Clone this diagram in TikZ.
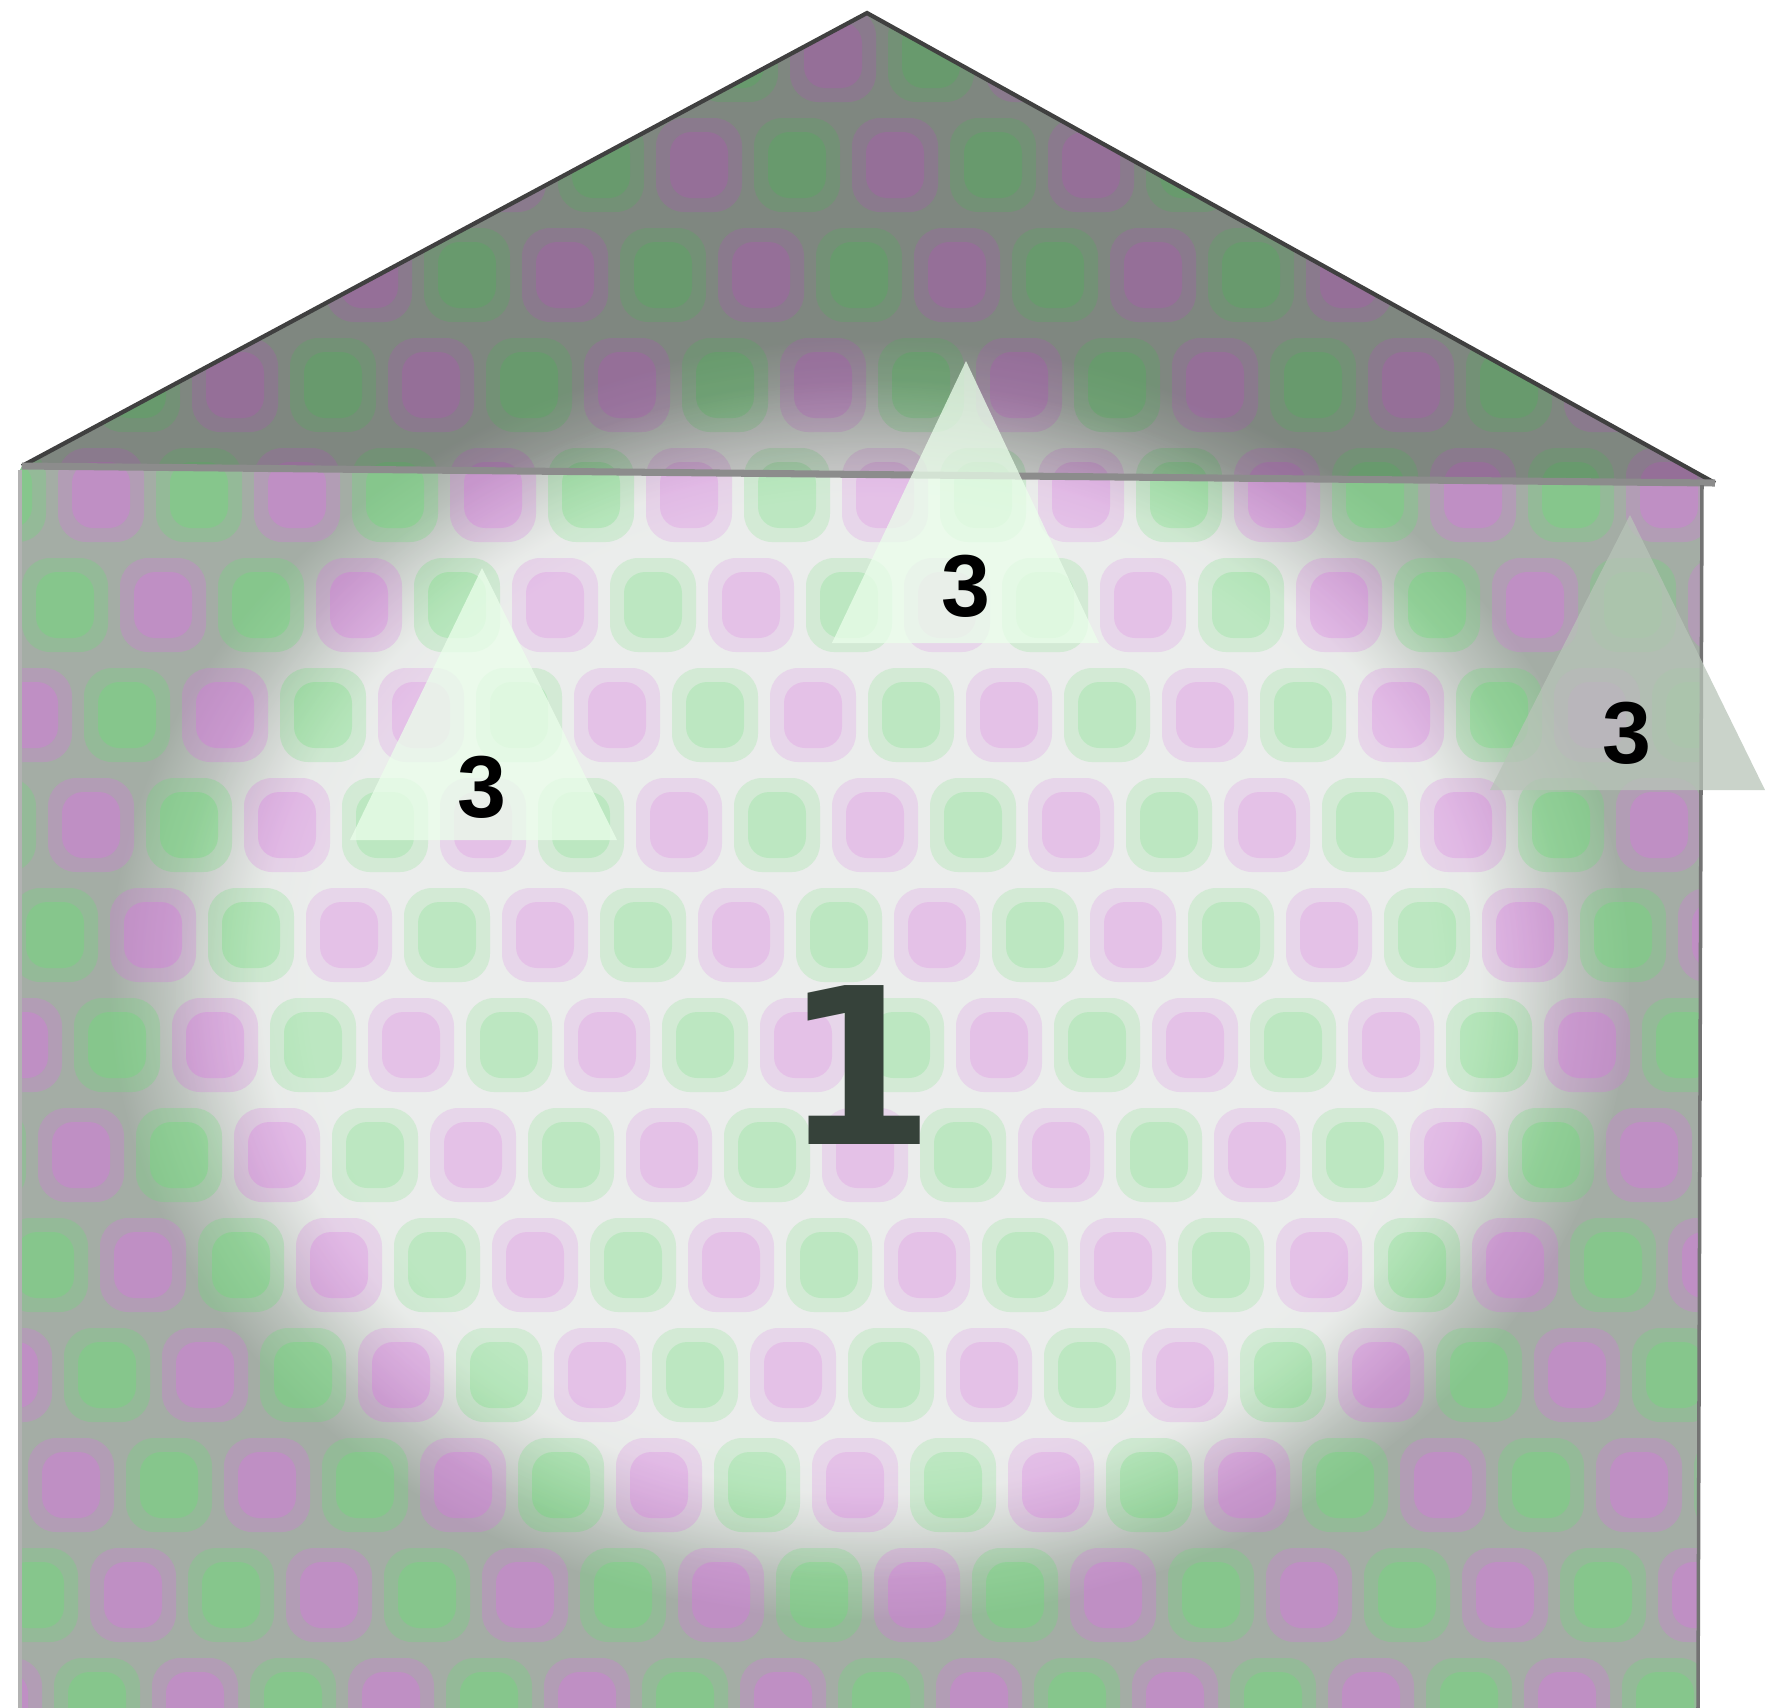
\documentclass[tikz,border=0pt]{standalone}
\usepackage{fontspec}
\setmainfont{Liberation Sans}
\newfontfamily\digitfont{DejaVu Sans}
\usetikzlibrary{fadings}
\definecolor{plum}{HTML}{D37ADB}
\definecolor{mint}{HTML}{72D97C}
\definecolor{wallgray}{HTML}{A4ADA5}
\definecolor{inkgray}{HTML}{36423A}
\definecolor{panegray}{HTML}{B8C4B8}

\begin{document}
\begin{tikzpicture}[x=0.01cm,y=-0.01cm,
  blob/.style={opacity=.3,rounded corners=8pt},
  core/.style={opacity=.4,rounded corners=6pt},
  glow/.style={fill=white,path fading=circle with fuzzy edge 20 percent},
  pane/.style={fill=white!92!green,fill opacity=.75},
  greypane/.style={fill=panegray,fill opacity=.75},
  small/.style={font=\bfseries\fontsize{25}{25}\selectfont,text=black},
  big/.style={font=\digitfont\bfseries\fontsize{62}{62}\selectfont,text=inkgray}]
  \useasboundingbox (0,0) rectangle (1768,1708);
  \coordinate (apex) at (867,13);
  \coordinate (rl) at (22,466);
  \coordinate (rr) at (1715,483);
  \coordinate (bl) at (20,470);
  \coordinate (br) at (1702,485);
  \coordinate (bbr) at (1698,1708);
  \coordinate (bbl) at (20,1708);
  % house with plaid
  \begin{scope}
    \clip (bbl) -- (bl) -- (rl) -- (apex) -- (rr) -- (br) -- (bbr) -- cycle;
    \fill[wallgray] (0,0) rectangle (1768,1708);
    \fill[glow,fill opacity=.7] (870,980) ellipse (760 and 640);
    \foreach \j in {0,...,15}{
      \pgfmathtruncatemacro\xo{mod(\j*62,196)-196}
      \foreach \i in {0,...,20}{
        \ifodd\i \def\tint{mint}\else \def\tint{plum}\fi
        \fill[blob,\tint] (\xo+\i*98+6,\j*110+8) rectangle ++(86,94);
        \fill[core,\tint] (\xo+\i*98+20,\j*110+22) rectangle ++(58,66);
      }
    }
    \fill[black,opacity=.22] (rl) -- (apex) -- (rr) -- cycle;
    \fill[glow,fill opacity=.3] (870,980) ellipse (700 and 600);
  \end{scope}
  \draw[black!75,line width=1.2pt] (rl) -- (apex) -- (rr);
  \draw[black!45,line width=2pt] (rl) -- (rr);
  \draw[black!55,line width=1pt] (br) -- (bbr);
  \draw[black!30,line width=1pt] (bl) -- (bbl);
  % triangles
  \fill[pane] (482,568) -- (617,840) -- (350,840) -- cycle;
  \fill[pane] (966,361) -- (1099,643) -- (832,643) -- cycle;
  \fill[greypane] (1630,515) -- (1765,790) -- (1490,790) -- cycle;
  \node[small] (tri1) at (482,787) {3};
  \node[small] (tri2) at (966,586) {3};
  \node[small] (tri3) at (1627,733) {3};
  \node[big] (one) at (859,1065) {1};
\end{tikzpicture}
\end{document}
